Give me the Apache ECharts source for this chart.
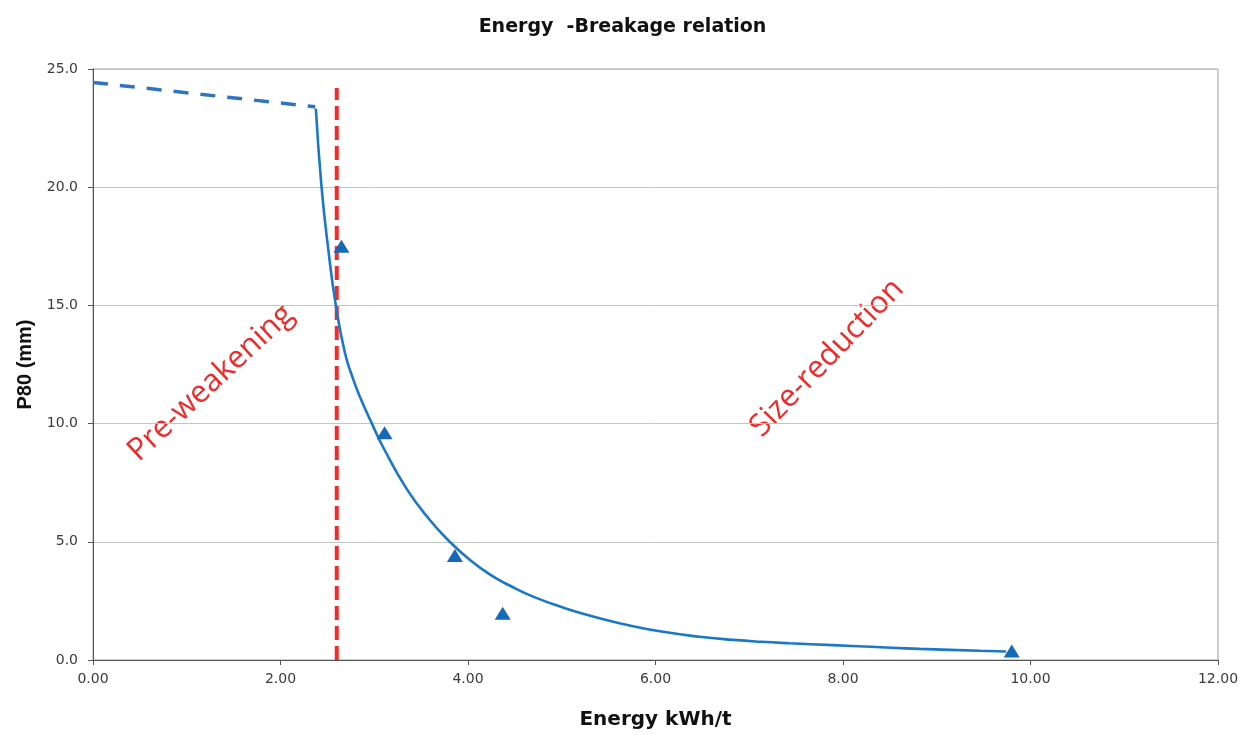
<!DOCTYPE html>
<html><head><meta charset="utf-8">
<script src="https://cdn.jsdelivr.net/npm/echarts@6/dist/echarts.min.js"></script>
<style>html,body{margin:0;padding:0;background:#fff}#c{width:1245px;height:735px}</style>
</head><body><div id="c"></div>
<script>
// Data
const xTicks = [0, 2, 4, 6, 8, 10, 12];
const yTicks = [0, 5, 10, 15, 20, 25];
const dashedExtrapolation = [[0, 24.43], [2.37, 23.4]];
const fittedCurve = [
  [2.377, 23.33], [2.438, 20.0], [2.51, 17.36], [2.59, 15.0], [2.687, 13.0],
  [2.775, 11.88], [2.857, 11.04], [2.975, 10.0], [3.095, 9.0], [3.344, 7.25],
  [3.593, 5.92], [3.806, 5.0], [4.0, 4.3], [4.232, 3.62], [4.45, 3.14],
  [4.694, 2.68], [5.05, 2.17], [5.405, 1.77], [5.76, 1.43], [6.116, 1.17],
  [6.47, 0.98], [6.83, 0.85], [7.13, 0.77], [7.43, 0.71], [7.89, 0.63],
  [8.30, 0.56], [8.82, 0.47], [9.46, 0.39], [9.74, 0.36]
];
const measured = [[2.65, 17.5], [3.11, 9.61], [3.86, 4.42], [4.37, 1.98], [9.80, 0.38]];
const boundaryX = 2.60;
const boundaryTop = 24.2;
const labels = ['Pre-weakening', 'Size-reduction'];

const chart = echarts.init(document.getElementById('c'));
chart.setOption({
  animation: false,
  title: {
    text: 'Energy  -Breakage relation', left: 'center', top: 13,
    textStyle: {fontFamily: 'DejaVu Sans', fontWeight: 'bold', fontSize: 19, color: '#111'}
  },
  grid: {left: 93, right: 27, top: 69, bottom: 73, show: true, borderColor: '#9a9a9a', borderWidth: 1},
  xAxis: {
    type: 'value', min: 0, max: 12, interval: 2,
    name: 'Energy kWh/t', nameLocation: 'middle', nameGap: 50,
    nameTextStyle: {fontFamily: 'DejaVu Sans', fontWeight: 'bold', fontSize: 20, color: '#111'},
    axisLine: {lineStyle: {color: '#555', width: 1}},
    axisTick: {show: true, length: 5, lineStyle: {color: '#555'}},
    axisLabel: {formatter: v => v.toFixed(2), fontFamily: 'DejaVu Sans', fontSize: 14, color: '#3a3a3a', margin: 12},
    splitLine: {show: false}
  },
  yAxis: {
    type: 'value', min: 0, max: 25, interval: 5,
    name: 'P80 (mm)', nameLocation: 'middle', nameGap: 55, nameRotate: 90,
    nameTextStyle: {fontFamily: 'Liberation Sans', fontWeight: 'bold', fontSize: 20, color: '#111'},
    axisLine: {show: true, lineStyle: {color: '#555', width: 1}},
    axisTick: {show: true, length: 5, lineStyle: {color: '#555'}},
    axisLabel: {formatter: v => v.toFixed(1), fontFamily: 'DejaVu Sans', fontSize: 14, color: '#3a3a3a', margin: 15},
    splitLine: {show: true, lineStyle: {color: '#c4c4c4', width: 1}}
  },
  series: [
    {
      type: 'line', data: dashedExtrapolation, symbol: 'none',
      lineStyle: {color: '#2f74c0', width: 3.5, type: [15, 12]}
    },
    {
      type: 'line', data: fittedCurve, symbol: 'none', smooth: 0.5,
      lineStyle: {color: '#1a78c8', width: 2.6}
    },
    {
      type: 'line', data: [[boundaryX, 0], [boundaryX, boundaryTop]], symbol: 'none',
      lineStyle: {color: '#f52a2a', width: 4, type: [14, 6]}, z: 1
    },
    {
      type: 'scatter', data: measured, symbol: 'triangle', symbolSize: [16, 13],
      itemStyle: {color: '#1668b8', opacity: 1}, z: 5
    }
  ],
  graphic: [
    {
      type: 'text', x: 211, y: 383, rotation: 43 * Math.PI / 180,
      style: {text: labels[0], fill: '#ee2a2a', font: '31px "Open Sans"', textAlign: 'center', textVerticalAlign: 'middle'}
    },
    {
      type: 'text', x: 827, y: 358, rotation: 46 * Math.PI / 180,
      style: {text: labels[1], fill: '#ee2a2a', font: '31px "Open Sans"', textAlign: 'center', textVerticalAlign: 'middle'}
    }
  ]
});
</script>
</body></html>
